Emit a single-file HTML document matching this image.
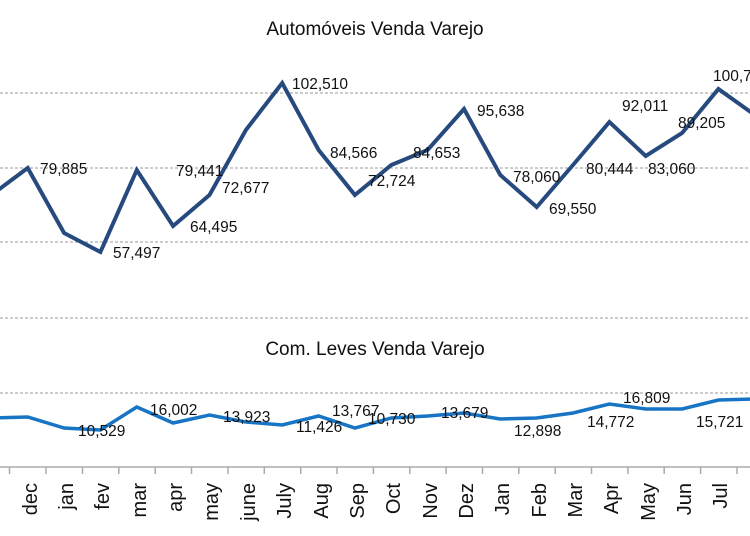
<!DOCTYPE html>
<html><head><meta charset="utf-8"><style>
html,body{margin:0;padding:0;background:#fff;width:750px;height:536px;overflow:hidden}
svg{display:block;font-family:"Liberation Sans",sans-serif}
.l{font-size:15.5px;fill:#111}
.t{font-size:19px;fill:#111}
.x{font-size:20px;fill:#111}
</style></head><body>
<svg width="750" height="536" viewBox="0 0 750 536">
<g stroke="#999" stroke-dasharray="3,2" stroke-width="1">
<line x1="0" y1="93" x2="750" y2="93"/><line x1="0" y1="168" x2="750" y2="168"/>
<line x1="0" y1="242" x2="750" y2="242"/><line x1="0" y1="318" x2="750" y2="318"/>
<line x1="0" y1="393" x2="750" y2="393"/>
</g>
<line x1="0" y1="467" x2="750" y2="467" stroke="#aaa" stroke-width="1.5"/>
<g stroke="#aaa" stroke-width="1.5">
<line x1="9.5" y1="467" x2="9.5" y2="474"/><line x1="46" y1="467" x2="46" y2="474"/><line x1="82.5" y1="467" x2="82.5" y2="474"/><line x1="118.8" y1="467" x2="118.8" y2="474"/><line x1="155.2" y1="467" x2="155.2" y2="474"/><line x1="191.5" y1="467" x2="191.5" y2="474"/><line x1="228" y1="467" x2="228" y2="474"/><line x1="264.3" y1="467" x2="264.3" y2="474"/><line x1="300.7" y1="467" x2="300.7" y2="474"/><line x1="337" y1="467" x2="337" y2="474"/><line x1="373.4" y1="467" x2="373.4" y2="474"/><line x1="409.8" y1="467" x2="409.8" y2="474"/><line x1="446.1" y1="467" x2="446.1" y2="474"/><line x1="482.5" y1="467" x2="482.5" y2="474"/><line x1="518.8" y1="467" x2="518.8" y2="474"/><line x1="555.2" y1="467" x2="555.2" y2="474"/><line x1="591.5" y1="467" x2="591.5" y2="474"/><line x1="627.9" y1="467" x2="627.9" y2="474"/><line x1="664.2" y1="467" x2="664.2" y2="474"/><line x1="700.6" y1="467" x2="700.6" y2="474"/><line x1="737" y1="467" x2="737" y2="474"/>
</g>
<text class="t" x="375" y="35" text-anchor="middle">Automóveis Venda Varejo</text>
<text class="t" x="375" y="355" text-anchor="middle">Com. Leves Venda Varejo</text>
<polyline fill="none" stroke="#264a7d" stroke-width="4" stroke-linejoin="miter" points="-8.6,195 27.7,168 64.1,233 100.4,252 136.8,170 173.1,226 209.5,195 245.9,130 282.2,83 318.6,150 354.9,195 391.3,165 427.6,150 464,109 500.3,175 536.7,207 573,165 609.4,122 645.7,156 682.1,133 718.4,89 754.8,115"/>
<polyline fill="none" stroke="#1874c4" stroke-width="3.5" points="-8.6,418 27.7,417 64.1,428 100.4,430 136.8,407 173.1,423 209.5,415 245.9,422 282.2,425 318.6,416 354.9,428 391.3,418 427.6,416 464,413 500.3,419 536.7,418 573,413 609.4,404 645.7,409 682.1,409 718.4,400 754.8,399"/>
<g class="l">
<text x="40" y="174">79,885</text><text x="113" y="258">57,497</text><text x="176" y="176">79,441</text>
<text x="190" y="232">64,495</text><text x="222" y="193">72,677</text><text x="292" y="89">102,510</text>
<text x="330" y="158">84,566</text><text x="368" y="186">72,724</text><text x="413" y="158">84,653</text>
<text x="477" y="116">95,638</text><text x="513" y="182">78,060</text><text x="549" y="214">69,550</text>
<text x="586" y="174">80,444</text><text x="622" y="111">92,011</text><text x="648" y="174">83,060</text>
<text x="678" y="128">89,205</text><text x="713" y="81">100,7</text>
<text x="78" y="436">10,529</text><text x="150" y="415">16,002</text><text x="223" y="422">13,923</text>
<text x="296" y="432">11,426</text><text x="332" y="416">13,767</text><text x="368" y="424">10,730</text>
<text x="441" y="418">13,679</text><text x="514" y="436">12,898</text><text x="587" y="427">14,772</text>
<text x="623" y="403">16,809</text><text x="696" y="427">15,721</text>
</g>
<g class="x" text-anchor="end">
<text transform="translate(37,483) rotate(-90)">dec</text>
<text transform="translate(73,483) rotate(-90)">jan</text>
<text transform="translate(109,483) rotate(-90)">fev</text>
<text transform="translate(146,483) rotate(-90)">mar</text>
<text transform="translate(182,483) rotate(-90)">apr</text>
<text transform="translate(218,483) rotate(-90)">may</text>
<text transform="translate(255,483) rotate(-90)">june</text>
<text transform="translate(291,483) rotate(-90)">July</text>
<text transform="translate(328,483) rotate(-90)">Aug</text>
<text transform="translate(364,483) rotate(-90)">Sep</text>
<text transform="translate(400,483) rotate(-90)">Oct</text>
<text transform="translate(437,483) rotate(-90)">Nov</text>
<text transform="translate(473,483) rotate(-90)">Dez</text>
<text transform="translate(509,483) rotate(-90)">Jan</text>
<text transform="translate(546,483) rotate(-90)">Feb</text>
<text transform="translate(582,483) rotate(-90)">Mar</text>
<text transform="translate(618,483) rotate(-90)">Apr</text>
<text transform="translate(655,483) rotate(-90)">May</text>
<text transform="translate(691,483) rotate(-90)">Jun</text>
<text transform="translate(727,483) rotate(-90)">Jul</text>
<text transform="translate(764,483) rotate(-90)">Aug</text>
</g>
</svg>
</body></html>
